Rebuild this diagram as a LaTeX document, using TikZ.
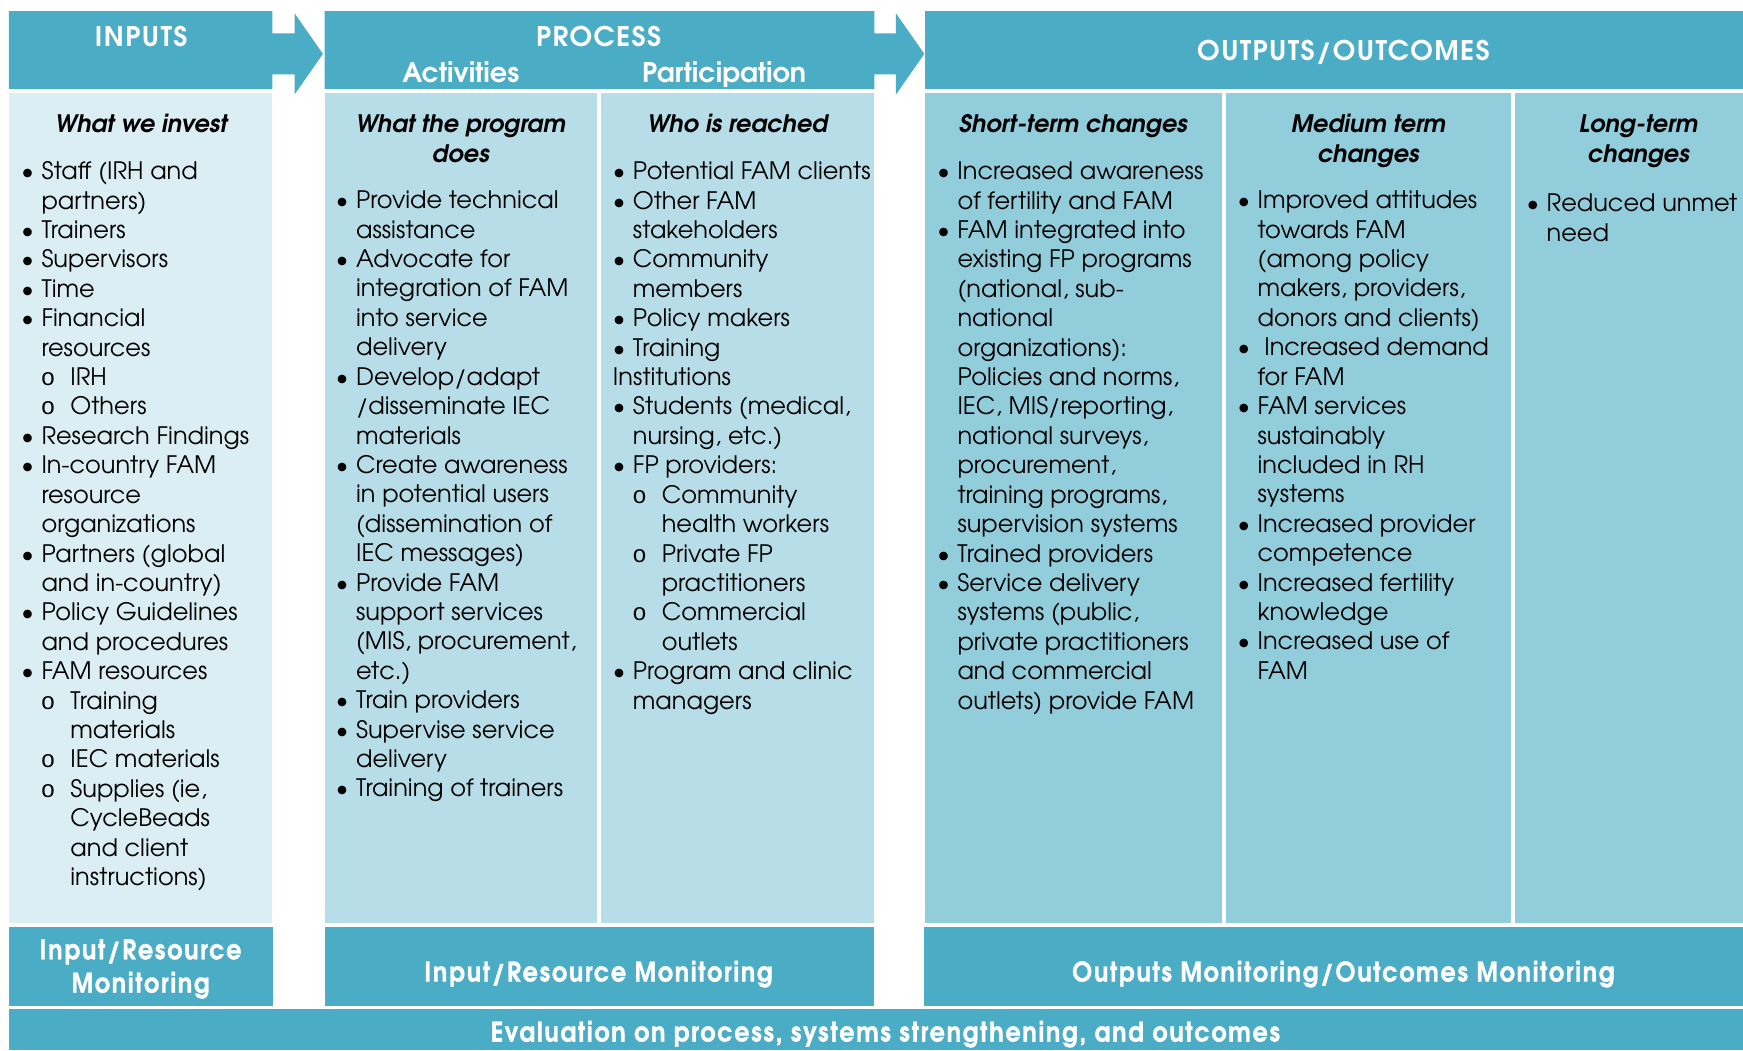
\documentclass[tikz,border=0pt]{standalone}
\usepackage{fontspec}
\setmainfont{texgyreadventor}[Extension=.otf, UprightFont=*-regular, BoldFont=*-bold, ItalicFont=*-italic, BoldItalicFont=*-bolditalic]
\newfontfamily\condfont{texgyreadventor}[Extension=.otf, UprightFont=*-bold, FakeStretch=0.88, LetterSpace=6.5, FakeBold=1.2]
\newfontfamily\capsfont{texgyreadventor}[Extension=.otf, UprightFont=*-bold, LetterSpace=5]
\newfontfamily\subfont{Liberation Mono}

\definecolor{hdrblue}{HTML}{4BACC6}
\definecolor{palecol}{HTML}{DAEEF3}
\definecolor{midcol}{HTML}{B7DEE8}
\definecolor{deepcol}{HTML}{92CDDC}

\newcommand\bodyfont{\fontsize{11.9}{14.55}\selectfont}
% line prefixes for the bullet lists
\newcommand\bul{\strut\llap{\makebox[13.75pt]{\textbullet}}}
\newcommand\cont{\strut}
\newcommand\subb{\strut\rlap{\makebox[6.6pt]{\subfont o}}\hspace*{14.3pt}}
\newcommand\subc{\strut\hspace*{14.3pt}}

\tikzset{
  x=0.55pt, y=-0.55pt,
  bodytext/.style={anchor=north west, inner sep=0, align=left, font=\bodyfont},
  headtext/.style={anchor=north, inner sep=0, align=center, font=\bodyfont\bfseries\itshape},
  bartext/.style={text=white, font=\bfseries\fontsize{13.4}{16}\selectfont, inner sep=0, anchor=base},
  capstext/.style={bartext, font=\capsfont\fontsize{13.4}{16}\selectfont},
  montext/.style={text=white, font=\condfont\fontsize{13.4}{16}\selectfont, inner sep=0, anchor=base},
}

\begin{document}
\begin{tikzpicture}
\useasboundingbox (0,0) rectangle (1568,945);

% header bands with their arrows
\fill[hdrblue] (8,10) -- (245,10) -- (245,30) -- (265,30) -- (265,12) -- (290.5,48.5)
  -- (265,85) -- (265,67) -- (245,67) -- (245,80) -- (8,80) -- cycle;
\fill[hdrblue] (292,10) -- (786.5,10) -- (786.5,30) -- (806,30) -- (806,12) -- (831.5,48.5)
  -- (806,85) -- (806,67) -- (786.5,67) -- (786.5,80) -- (292,80) -- cycle;
\fill[hdrblue] (832,10) rectangle (1568,80);

% body columns
\fill[palecol] (8,84) rectangle (245,830);
\fill[midcol] (292,84) rectangle (537,830);
\fill[midcol] (541,84) rectangle (786.5,830);
\fill[deepcol] (832,84) rectangle (1099,830);
\fill[deepcol] (1103,84) rectangle (1359,830);
\fill[deepcol] (1363,84) rectangle (1568,830);

% monitoring row and evaluation bar
\fill[hdrblue] (8,833.5) rectangle (245.5,905);
\fill[hdrblue] (292,833.5) rectangle (786.5,905);
\fill[hdrblue] (831.5,833.5) rectangle (1568,905);
\fill[hdrblue] (8,907.5) rectangle (1568,945);

% header labels
\node[capstext] (tin) at (127,42) {INPUTS};
\node[capstext] (tproc) at (538.5,42) {PROCESS};
\node[bartext] (tact) at (414.5,74) {Activities};
\node[bartext] (tpart) at (651.5,74) {Participation};
\node[capstext] (tout) at (1208.5,54) {OUTPUTS/OUTCOMES};

% column headings
\node[headtext] (h1) at (127,100.5) {\strut What we invest};
\node[headtext] (h2) at (414.5,100.5) {\strut What the program\\\strut does};
\node[headtext] (h3) at (663.5,100.5) {\strut Who is reached};
\node[headtext] (h4) at (965.5,100.5) {\strut Short-term changes};
\node[headtext] (h5) at (1231,100.5) {\strut Medium term\\\strut changes};
\node[headtext] (h6) at (1474,100.5) {\strut Long-term\\\strut changes};

% column contents
\node[bodytext] (b1) at (37,142.8) {%
\bul Staff (IRH and\\
\cont partners)\\
\bul Trainers\\
\bul Supervisors\\
\bul Time\\
\bul Financial\\
\cont resources\\
\subb IRH\\
\subb Others\\
\bul Research Findings\\
\bul In-country FAM\\
\cont resource\\
\cont organizations\\
\bul Partners (global\\
\cont and in-country)\\
\bul Policy Guidelines\\
\cont and procedures\\
\bul FAM resources\\
\subb Training\\
\subc materials\\
\subb IEC materials\\
\subb Supplies (ie,\\
\subc CycleBeads\\
\subc and client\\
\subc instructions)};

\node[bodytext] (b2) at (320,168.9) {%
\bul Provide technical\\
\cont assistance\\
\bul Advocate for\\
\cont integration of FAM\\
\cont into service\\
\cont delivery\\
\bul Develop/adapt\\
\cont /disseminate IEC\\
\cont materials\\
\bul Create awareness\\
\cont in potential users\\
\cont (dissemination of\\
\cont IEC messages)\\
\bul Provide FAM\\
\cont support services\\
\cont (MIS, procurement,\\
\cont etc.)\\
\bul Train providers\\
\bul Supervise service\\
\cont delivery\\
\bul Training of trainers};

\node[bodytext] (b3) at (569,142.8) {%
\bul Potential FAM clients\\
\bul Other FAM\\
\cont stakeholders\\
\bul Community\\
\cont members\\
\bul Policy makers\\
\bul Training\\
\cont\hspace*{-9.9pt}Institutions\\
\bul Students (medical,\\
\cont nursing, etc.)\\
\bul FP providers:\\
\subb Community\\
\subc health workers\\
\subb Private FP\\
\subc practitioners\\
\subb Commercial\\
\subc outlets\\
\bul Program and clinic\\
\cont managers};

\node[bodytext] (b4) at (861,142.8) {%
\bul Increased awareness\\
\cont of fertility and FAM\\
\bul FAM integrated into\\
\cont existing FP programs\\
\cont (national, sub-\\
\cont national\\
\cont organizations):\\
\cont Policies and norms,\\
\cont IEC, MIS/reporting,\\
\cont national surveys,\\
\cont procurement,\\
\cont training programs,\\
\cont supervision systems\\
\bul Trained providers\\
\bul Service delivery\\
\cont systems (public,\\
\cont private practitioners\\
\cont and commercial\\
\cont outlets) provide FAM};

\node[bodytext] (b5) at (1131,168.9) {%
\bul Improved attitudes\\
\cont towards FAM\\
\cont (among policy\\
\cont makers, providers,\\
\cont donors and clients)\\
\bul\hspace*{3.3pt}Increased demand\\
\cont for FAM\\
\bul FAM services\\
\cont sustainably\\
\cont included in RH\\
\cont systems\\
\bul Increased provider\\
\cont competence\\
\bul Increased fertility\\
\cont knowledge\\
\bul Increased use of\\
\cont FAM};

\node[bodytext] (b6) at (1391,171.5) {%
\bul Reduced unmet\\
\cont need};

% monitoring and evaluation labels
\node[montext] (m1a) at (126.5,863) {Input/Resource};
\node[montext] (m1b) at (126.5,893) {Monitoring};
\node[montext] (m2) at (538.5,883) {Input/Resource Monitoring};
\node[montext] (m3) at (1208.5,883) {Outputs Monitoring/Outcomes Monitoring};
\node[montext] (ev) at (796.5,937) {Evaluation on process, systems strengthening, and outcomes};
\end{tikzpicture}
\end{document}
